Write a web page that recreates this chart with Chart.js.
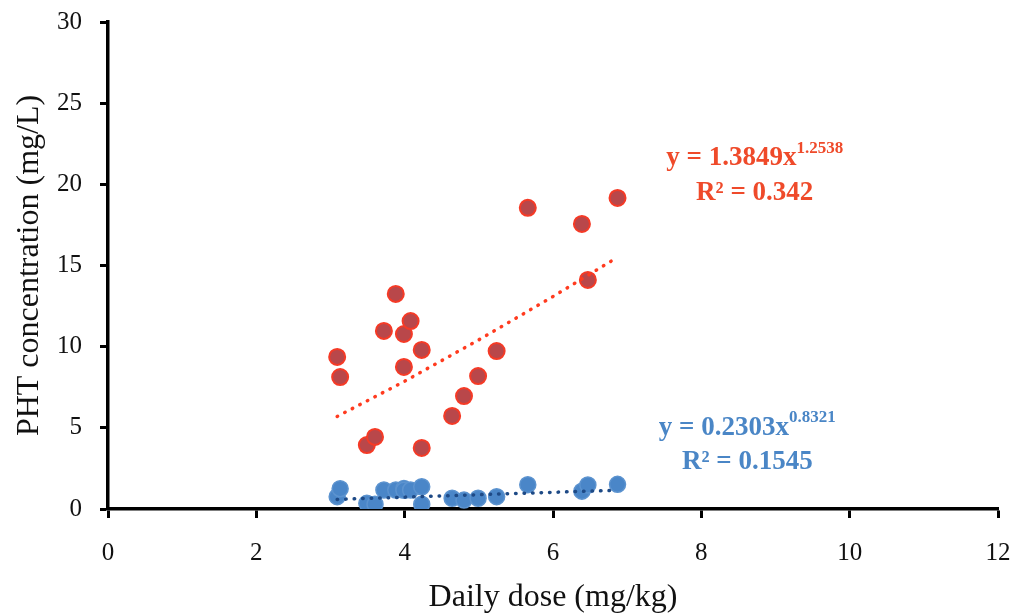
<!DOCTYPE html>
<html>
<head>
<meta charset="utf-8">
<script src="https://cdn.jsdelivr.net/npm/chart.js@4"></script>
<style>
  html, body { margin: 0; padding: 0; background: #fff; }
  #wrap { width: 1016px; height: 614px; }
</style>
</head>
<body>
<div id="wrap"><canvas id="grafica" width="1016" height="614"></canvas></div>
<script>
// dosis diaria (mg/kg) de cada paciente
const dosis = [3.09, 3.13, 3.49, 3.60, 3.72, 3.88, 3.99, 3.99, 4.08, 4.23, 4.23, 4.64, 4.80, 4.99, 5.24, 5.66, 6.39, 6.47, 6.87]
// concentraciones (mg/L)
const concRoja = [9.37, 8.13, 3.94, 4.44, 10.97, 13.25, 10.78, 8.75, 11.58, 9.80, 3.76, 5.73, 6.96, 8.19, 9.73, 18.55, 17.56, 14.11, 19.16]
const concAzul = [0.76, 1.25, 0.35, 0.30, 1.17, 1.17, 1.27, 1.15, 1.17, 1.37, 0.30, 0.66, 0.55, 0.66, 0.76, 1.50, 1.10, 1.48, 1.52]

// lineas de tendencia
const tendX = [3.09, 4, 5, 6, 6.87]
const tendRoja = [5.70, 7.87, 10.42, 13.09, 15.51]
const tendAzul = [0.59, 0.73, 0.88, 1.03, 1.15]

const ticksX = [0, 2, 4, 6, 8, 10, 12]
const ticksY = [0, 5, 10, 15, 20, 25, 30]

const ecuaciones = [
    { base: 'y = 1.3849x', exp: '1.2538', r2: 'R² = 0.342', color: '#EF4A2A', x: 8.72, y: 21.6, y2: 19.45 },
    { base: 'y = 0.2303x', exp: '0.8321', r2: 'R² = 0.1545', color: '#4A86C6', x: 8.62, y: 4.99, y2: 2.9 }
]

const pares = (xs, ys) => xs.map((x, i) => ({ x: x, y: ys[i] }))

const fuente = 'Liberation Serif, "DejaVu Serif", serif'

const pluginEcuaciones = {
    id: 'ecuaciones',
    afterDatasetsDraw(chart) {
        const ctx = chart.ctx
        const sx = chart.scales.x
        const sy = chart.scales.y
        ctx.save()
        ecuaciones.forEach(eq => {
            ctx.fillStyle = eq.color
            ctx.textBaseline = 'middle'
            ctx.font = `bold 27px ${fuente}`
            const wBase = ctx.measureText(eq.base).width
            ctx.font = `bold 17px ${fuente}`
            const wExp = ctx.measureText(eq.exp).width
            const cx = sx.getPixelForValue(eq.x)
            const cy = sy.getPixelForValue(eq.y)
            const x0 = cx - (wBase + wExp) / 2
            ctx.textAlign = 'left'
            ctx.font = `bold 27px ${fuente}`
            ctx.fillText(eq.base, x0, cy)
            ctx.font = `bold 17px ${fuente}`
            ctx.fillText(eq.exp, x0 + wBase, cy - 10)
            ctx.font = `bold 27px ${fuente}`
            ctx.textAlign = 'center'
            ctx.fillText(eq.r2, cx, sy.getPixelForValue(eq.y2))
        })
        ctx.restore()
    }
}

const fondoBlanco = {
    id: 'fondoBlanco',
    beforeDraw(chart) {
        const ctx = chart.ctx
        ctx.save()
        ctx.fillStyle = '#ffffff'
        ctx.fillRect(0, 0, chart.width, chart.height)
        ctx.restore()
    }
}

const canvas = document.getElementById('grafica')
const context = canvas.getContext('2d')

const grafica = new Chart(context, {
    type: 'scatter',
    data: {
        datasets: [
            {
                label: 'Tendencia roja',
                data: pares(tendX, tendRoja),
                showLine: true,
                borderColor: '#FF3B1F',
                borderWidth: 3.5,
                borderDash: [0.5, 8],
                borderCapStyle: 'round',
                pointRadius: 0,
                order: 0
            },
            {
                label: 'Tendencia azul',
                data: pares(tendX, tendAzul),
                showLine: true,
                borderColor: '#1E4A86',
                borderWidth: 3.5,
                borderDash: [0.5, 8],
                borderCapStyle: 'round',
                pointRadius: 0,
                order: 0
            },
            {
                label: 'Roja',
                data: pares(dosis, concRoja),
                backgroundColor: '#B9474A',
                borderColor: '#F53A26',
                borderWidth: 2,
                pointRadius: 8,
                order: 1
            },
            {
                label: 'Azul',
                data: pares(dosis, concAzul),
                backgroundColor: '#4A86C8',
                borderColor: '#5C93CF',
                borderWidth: 1.5,
                pointRadius: 8,
                order: 1
            }
        ]
    },
    options: {
        responsive: false,
        animation: false,
        layout: { padding: { top: 22, right: 18, left: 6, bottom: 0 } },
        plugins: {
            legend: { display: false },
            tooltip: { enabled: false }
        },
        scales: {
            x: {
                type: 'linear',
                min: 0,
                max: 12,
                afterBuildTicks: scale => { scale.ticks = ticksX.map(v => ({ value: v })) },
                afterFit: scale => {
                    scale.height = 105
                    scale.paddingLeft = 0
                    scale.paddingRight = 0
                },
                border: { color: '#000', width: 3.5 },
                grid: { drawOnChartArea: false, drawTicks: true, tickLength: 9, tickWidth: 3, tickColor: '#000' },
                ticks: { color: '#111', font: { family: fuente, size: 25 }, padding: 20 },
                title: { display: true, text: 'Daily dose (mg/kg)', color: '#111', font: { family: fuente, size: 32 }, padding: { top: 0, bottom: -3 } }
            },
            y: {
                type: 'linear',
                min: 0,
                max: 30,
                afterBuildTicks: scale => { scale.ticks = ticksY.map(v => ({ value: v })) },
                afterFit: scale => {
                    scale.width = 102
                    scale.paddingTop = 0
                    scale.paddingBottom = 0
                },
                border: { color: '#000', width: 3.5 },
                grid: { drawOnChartArea: false, drawTicks: true, tickLength: 8, tickWidth: 3, tickColor: '#000' },
                ticks: { color: '#111', font: { family: fuente, size: 25 }, padding: 18 },
                title: { display: true, text: 'PHT concentration (mg/L)', color: '#111', font: { family: fuente, size: 32 }, padding: { bottom: 4 } }
            }
        }
    },
    plugins: [fondoBlanco, pluginEcuaciones]
})
</script>
</body>
</html>
